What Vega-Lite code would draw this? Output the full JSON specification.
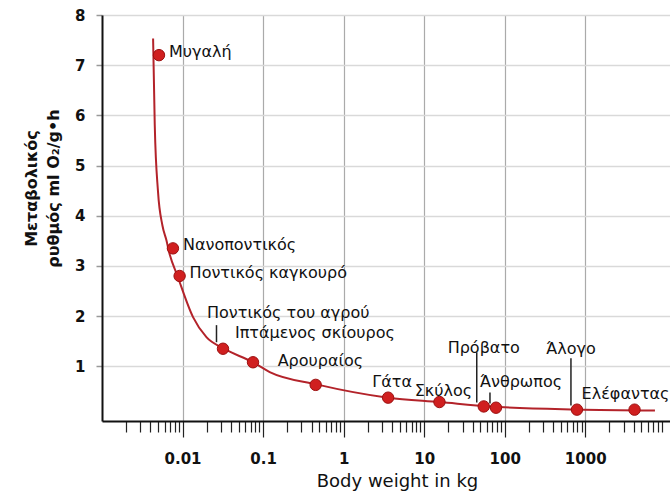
{
  "$schema": "https://vega.github.io/schema/vega-lite/v6.json",
  "width": 568,
  "height": 406,
  "autosize": {"type": "none"},
  "padding": {"left": 102, "top": 15, "right": 0, "bottom": 74},
  "background": "white",
  "config": {
    "view": {"stroke": null},
    "font": "DejaVu Sans"
  },
  "datasets": {
    "animals": [
      {"name": "Μυγαλή", "weight": 0.0051, "rate": 7.2},
      {"name": "Νανοποντικός", "weight": 0.0076, "rate": 3.35},
      {"name": "Ποντικός καγκουρό", "weight": 0.0092, "rate": 2.8},
      {"name": "Ποντικός του αγρού", "weight": 0.0318, "rate": 1.35},
      {"name": "Ιπτάμενος σκίουρος", "weight": 0.075, "rate": 1.08},
      {"name": "Αρουραίος", "weight": 0.45, "rate": 0.63},
      {"name": "Γάτα", "weight": 3.57, "rate": 0.375},
      {"name": "Σκύλος", "weight": 15.5, "rate": 0.288},
      {"name": "Πρόβατο", "weight": 55, "rate": 0.2},
      {"name": "Άνθρωπος", "weight": 78, "rate": 0.175},
      {"name": "Άλογο", "weight": 790, "rate": 0.136},
      {"name": "Ελέφαντας", "weight": 4100, "rate": 0.136}
    ],
    "curve": [
      {"weight": 0.00431, "rate": 7.53},
      {"weight": 0.00452, "rate": 5.81},
      {"weight": 0.00496, "rate": 4.48},
      {"weight": 0.00562, "rate": 3.81},
      {"weight": 0.00631, "rate": 3.51},
      {"weight": 0.0068, "rate": 3.28},
      {"weight": 0.0087, "rate": 2.79},
      {"weight": 0.0135, "rate": 1.98},
      {"weight": 0.0198, "rate": 1.58},
      {"weight": 0.0318, "rate": 1.36},
      {"weight": 0.0751, "rate": 1.08},
      {"weight": 0.121, "rate": 0.885},
      {"weight": 0.46, "rate": 0.64},
      {"weight": 3.57, "rate": 0.375},
      {"weight": 15.7, "rate": 0.287},
      {"weight": 65.5, "rate": 0.2},
      {"weight": 789, "rate": 0.14},
      {"weight": 7350, "rate": 0.12}
    ]
  },
  "data": {"name": "animals"},
  "encoding": {
    "x": {
      "field": "weight",
      "type": "quantitative",
      "scale": {"type": "log", "domain": [0.001, 11300], "nice": false},
      "axis": {
        "title": "Body weight in kg",
        "titleFont": "DejaVu Sans",
        "titleFontSize": 18,
        "titleFontWeight": "normal",
        "titleColor": "#111",
        "titleX": 295,
        "titleY": 60,
        "titleBaseline": "middle",
        "titleAnchor": "middle",
        "values": [0.002,0.003,0.004,0.005,0.006,0.007,0.008,0.009,
                   0.01,0.02,0.03,0.04,0.05,0.06,0.07,0.08,0.09,
                   0.1,0.2,0.3,0.4,0.5,0.6,0.7,0.8,0.9,
                   1,2,3,4,5,6,7,8,9,
                   10,20,30,40,50,60,70,80,90,
                   100,200,300,400,500,600,700,800,900,
                   1000,2000,3000,4000,5000,6000,7000,8000,9000],
        "format": "~g",
        "labelExpr": "indexof(['0.01','0.1','1','10','100','1000'], datum.label) >= 0 ? datum.label : ''",
        "labelFont": "DejaVu Sans",
        "labelFontSize": 15,
        "labelFontWeight": "bold",
        "labelColor": "#111",
        "labelPadding": 14,
        "labelFlush": false,
        "labelOverlap": false,
        "tickSize": {"condition": {"test": "indexof([0.01,0.1,1,10,100,1000], datum.value) >= 0", "value": 16}, "value": 11},
        "tickColor": "#222",
        "tickWidth": 1.2,
        "domainColor": "#111",
        "domainWidth": 2,
        "grid": true,
        "gridColor": "#aaaaaa",
        "gridWidth": 1.2,
        "gridOpacity": {"condition": {"test": "indexof([0.01,0.1,1,10,100,1000], datum.value) >= 0", "value": 1}, "value": 0}
      }
    },
    "y": {
      "field": "rate",
      "type": "quantitative",
      "scale": {"domain": [-0.09, 8], "nice": false, "zero": false},
      "axis": {
        "title": ["Μεταβολικός", "ρυθμός ml O₂/g•h"],
        "titleFont": "DejaVu Sans",
        "titleFontSize": 16,
        "titleFontWeight": "bold",
        "titleColor": "#111",
        "titleLineHeight": 22,
        "titleAngle": -90,
        "titleAlign": "center",
        "titleBaseline": "middle",
        "titleX": -71,
        "titleY": 173,
        "values": [1, 2, 3, 4, 5, 6, 7, 8],
        "labelFont": "DejaVu Sans",
        "labelFontSize": 15,
        "labelFontWeight": "bold",
        "labelColor": "#111",
        "labelPadding": 11,
        "tickSize": 6,
        "tickColor": "#999",
        "tickWidth": 1.5,
        "domainColor": "#111",
        "domainWidth": 2,
        "grid": true,
        "gridColor": "#d9d9d9",
        "gridWidth": 1.5
      }
    }
  },
  "layer": [
    {
      "data": {"values": [{}]},
      "mark": {"type": "rule", "color": "#222", "strokeWidth": 2},
      "encoding": {"x": null, "y": {"datum": 8}}
    },
    {
      "data": {"name": "curve"},
      "mark": {"type": "line", "color": "#b3232a", "strokeWidth": 2, "interpolate": "monotone"}
    },
    {
      "transform": [{"filter": "datum.name == 'Ποντικός του αγρού'"}],
      "mark": {"type": "rule", "color": "#222", "strokeWidth": 1.5, "xOffset": -6.5},
      "encoding": {"y": {"datum": 1.82}, "y2": {"datum": 1.48}}
    },
    {
      "transform": [{"filter": "datum.name == 'Πρόβατο'"}],
      "mark": {"type": "rule", "color": "#222", "strokeWidth": 1.5, "xOffset": -7},
      "encoding": {"y": {"datum": 1.28}, "y2": {"datum": 0.28}}
    },
    {
      "transform": [{"filter": "datum.name == 'Άνθρωπος'"}],
      "mark": {"type": "rule", "color": "#222", "strokeWidth": 1.5, "xOffset": -6},
      "encoding": {"y": {"datum": 0.48}, "y2": {"datum": 0.26}}
    },
    {
      "transform": [{"filter": "datum.name == 'Άλογο'"}],
      "mark": {"type": "rule", "color": "#222", "strokeWidth": 1.5, "xOffset": -6},
      "encoding": {"y": {"datum": 1.16}, "y2": {"datum": 0.22}}
    },
    {
      "mark": {"type": "circle", "size": 130, "color": "#d01f1f", "opacity": 1, "stroke": "#9b1010", "strokeWidth": 1}
    },
    {
      "transform": [{"filter": {"field": "name", "oneOf": ["Μυγαλή", "Νανοποντικός", "Ποντικός καγκουρό"]}}],
      "mark": {"type": "text", "align": "left", "baseline": "middle", "dx": 10, "dy": -3, "fontSize": 16, "color": "#111"},
      "encoding": {"text": {"field": "name"}}
    },
    {
      "transform": [{"filter": "datum.name == 'Ποντικός του αγρού'"}],
      "mark": {"type": "text", "align": "left", "baseline": "middle", "dx": -16, "dy": -36, "fontSize": 16, "color": "#111"},
      "encoding": {"text": {"field": "name"}}
    },
    {
      "transform": [{"filter": "datum.name == 'Ιπτάμενος σκίουρος'"}],
      "mark": {"type": "text", "align": "left", "baseline": "middle", "dx": -18, "dy": -29, "fontSize": 16, "color": "#111"},
      "encoding": {"text": {"field": "name"}}
    },
    {
      "transform": [{"filter": "datum.name == 'Αρουραίος'"}],
      "mark": {"type": "text", "align": "left", "baseline": "middle", "dx": -38, "dy": -24, "fontSize": 16, "color": "#111"},
      "encoding": {"text": {"field": "name"}}
    },
    {
      "transform": [{"filter": "datum.name == 'Γάτα'"}],
      "mark": {"type": "text", "align": "center", "baseline": "middle", "dx": 4, "dy": -16, "fontSize": 16, "color": "#111"},
      "encoding": {"text": {"field": "name"}}
    },
    {
      "transform": [{"filter": "datum.name == 'Σκύλος'"}],
      "mark": {"type": "text", "align": "center", "baseline": "middle", "dx": 4, "dy": -11, "fontSize": 16, "color": "#111"},
      "encoding": {"text": {"field": "name"}}
    },
    {
      "transform": [{"filter": "datum.name == 'Πρόβατο'"}],
      "mark": {"type": "text", "align": "center", "baseline": "middle", "dx": 0, "dy": -58, "fontSize": 16, "color": "#111"},
      "encoding": {"text": {"field": "name"}}
    },
    {
      "transform": [{"filter": "datum.name == 'Άνθρωπος'"}],
      "mark": {"type": "text", "align": "center", "baseline": "middle", "dx": 25, "dy": -26, "fontSize": 16, "color": "#111"},
      "encoding": {"text": {"field": "name"}}
    },
    {
      "transform": [{"filter": "datum.name == 'Άλογο'"}],
      "mark": {"type": "text", "align": "center", "baseline": "middle", "dx": -6, "dy": -61, "fontSize": 16, "color": "#111"},
      "encoding": {"text": {"field": "name"}}
    },
    {
      "transform": [{"filter": "datum.name == 'Ελέφαντας'"}],
      "mark": {"type": "text", "align": "center", "baseline": "middle", "dx": -9, "dy": -16, "fontSize": 16, "color": "#111"},
      "encoding": {"text": {"field": "name"}}
    }
  ]
}
